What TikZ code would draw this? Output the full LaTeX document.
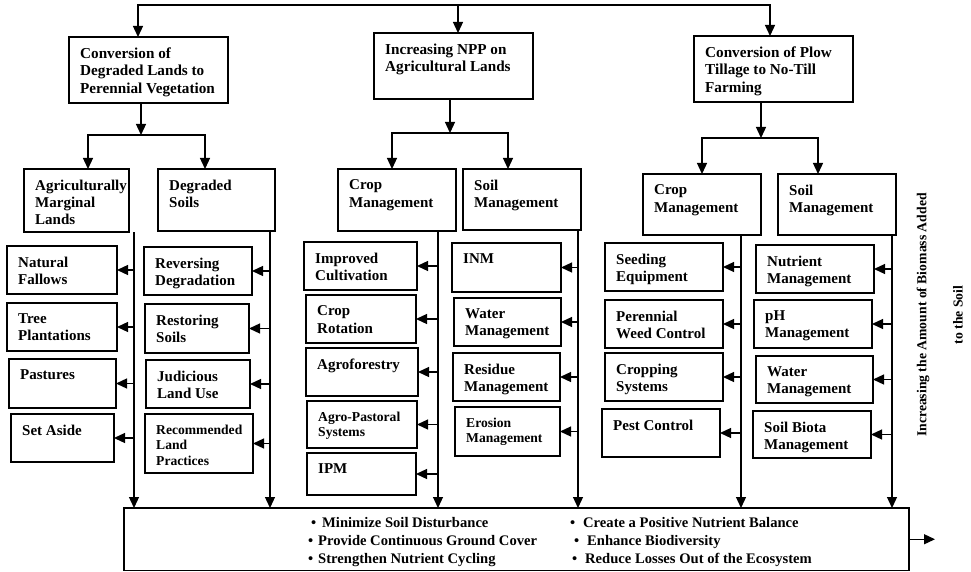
\documentclass[tikz,border=0pt]{standalone}
\usepackage{fontspec}
\setmainfont{Liberation Serif}
\usetikzlibrary{arrows.meta}
\newcommand\fm{\fontsize{15}{17.4}\selectfont\bfseries}
\newcommand\fbul{\fontsize{14.6}{17.4}\selectfont\bfseries}
\newcommand\ftop{\fontsize{15.2}{17.5}\selectfont\bfseries}
\newcommand\fsm{\fontsize{13.6}{15.5}\selectfont\bfseries}
\newcommand\frot{\fontsize{13.7}{16}\selectfont\bfseries}
\newcommand\bx[7][\fm]{%
  \node[box, anchor=north west, minimum width={(#5)-(#3)}, minimum height={(#6)-(#4)}] (#2) at (#3,#4) {};
  \node[lbl, font=#1] (#2t) at ([xshift=11pt,yshift=-10.5pt]#2.north west) {#7};}
\begin{document}
\begin{tikzpicture}[x=1pt,y=-1pt,
  box/.style={draw, line width=1.25pt, inner sep=0pt, outer sep=0pt},
  lbl/.style={anchor=north west, align=left, inner sep=0pt},
  ln/.style={line width=1.25pt, line join=miter},
  arr/.style={ln, -{Triangle[length=11pt,width=10pt]}},
  arrs/.style={ln, {Triangle[length=11pt,width=10pt]}-{Triangle[length=11pt,width=10pt]}},
  bul/.style={anchor=base west, inner sep=0pt, font=\fbul}]
\useasboundingbox (0,0) rectangle (971,572);

% top level
\bx[\ftop]{B1}{69}{37}{228}{103}{Conversion of\\Degraded Lands to\\Perennial Vegetation}
\bx[\ftop]{B2}{374}{33}{533}{99}{Increasing NPP on\\Agricultural Lands}
\bx[\ftop]{B3}{694}{36}{853}{102}{Conversion of Plow\\Tillage to No-Till\\Farming}

% second level
\bx{AML}{24}{169}{129}{232}{Agriculturally\\Marginal\\Lands}
\bx{DS}{158}{169}{275}{231}{Degraded\\Soils}
\bx{CM1}{338}{169}{456}{231}{Crop\\Management}
\bx{SM1}{463}{169}{581}{230}{Soil\\Management}
\bx{CM2}{643}{174}{761}{235}{Crop\\Management}
\bx{SM2}{778}{174}{896}{235}{Soil\\Management}

% leaves
\bx{NF}{7}{246}{117}{294}{Natural\\Fallows}
\bx{TP}{7}{303}{117}{351}{Tree\\Plantations}
\bx{PA}{9}{359}{116}{408}{Pastures}
\bx{SA}{11}{414}{114}{462}{Set Aside}
\bx{RD}{144}{247}{252}{295}{Reversing\\Degradation}
\bx{RS}{145}{304}{249}{353}{Restoring\\Soils}
\bx{JL}{146}{360}{250}{408}{Judicious\\Land Use}
\bx[\fsm]{RL}{145}{414}{253}{473}{Recommended\\Land\\Practices}
\bx{IC}{304}{242}{417}{290}{Improved\\Cultivation}
\bx{CR}{306}{295}{416}{343}{Crop\\Rotation}
\bx{AF}{306}{348}{418}{396}{Agroforestry}
\bx[\fsm]{AP}{307}{401}{417}{448}{Agro-Pastoral\\Systems}
\bx{IPM}{307}{453}{416}{495}{IPM}
\bx{INM}{452}{243}{561}{292}{INM}
\bx{WMa}{454}{298}{561}{346}{Water\\Management}
\bx{RM}{453}{353}{560}{401}{Residue\\Management}
\bx[\fsm]{EM}{455}{407}{560}{456}{Erosion\\Management}
\bx{SE}{605}{243}{723}{291}{Seeding\\Equipment}
\bx{PW}{605}{300}{723}{348}{Perennial\\Weed Control}
\bx{CS}{605}{353}{723}{401}{Cropping\\Systems}
\bx{PC}{602}{409}{720}{457}{Pest Control}
\bx{NM}{756}{245}{874}{293}{Nutrient\\Management}
\bx{PH}{754}{300}{872}{348}{pH\\Management}
\bx{WMb}{756}{356}{873}{403}{Water\\Management}
\bx{SB}{753}{411}{871}{458}{Soil Biota\\Management}

% bottom box
\node[box, anchor=north west, minimum width=785, minimum height=62.5] (bot) at (124,508) {};
\node[bul] (b1) at (311,527) {\makebox[11pt][l]{\textbullet}Minimize Soil Disturbance};
\node[bul] (b2) at (308,545) {\makebox[10pt][l]{\textbullet}Provide Continuous Ground Cover};
\node[bul] (b3) at (308,563) {\makebox[10pt][l]{\textbullet}Strengthen Nutrient Cycling};
\node[bul] (b4) at (570,527) {\makebox[13pt][l]{\textbullet}Create a Positive Nutrient Balance};
\node[bul] (b5) at (574,545) {\makebox[13pt][l]{\textbullet}Enhance Biodiversity};
\node[bul] (b6) at (572,563) {\makebox[13pt][l]{\textbullet}Reduce Losses Out of the Ecosystem};

% side caption
\node[rotate=90, inner sep=0pt, font=\frot] (rt1) at (923,315) {Increasing the Amount of Biomass Added};
\node[rotate=90, inner sep=0pt, font=\frot] (rt2) at (958,315) {to the Soil};

% top connectors
\coordinate (T1) at (138,5);
\coordinate (T2) at (458,5);
\coordinate (T3) at (770,5);
\draw[arrs] (T1 |- B1.north) -- (T1) -- (T3) -- (T3 |- B3.north);
\draw[arr] (T2) -- (T2 |- B2.north);

% branches
\coordinate (J1) at (141,135); \coordinate (J1a) at (88,135); \coordinate (J1b) at (205,135);
\coordinate (J2) at (450,133); \coordinate (J2a) at (392,133); \coordinate (J2b) at (508,133);
\coordinate (J3) at (761,138); \coordinate (J3a) at (702,138); \coordinate (J3b) at (818,138);
\draw[arr] (J1 |- B1.south) -- (J1);
\draw[arrs] (J1a |- AML.north) -- (J1a) -- (J1b) -- (J1b |- DS.north);
\draw[arr] (J2 |- B2.south) -- (J2);
\draw[arrs] (J2a |- CM1.north) -- (J2a) -- (J2b) -- (J2b |- SM1.north);
\draw[arr] (J3 |- B3.south) -- (J3);
\draw[arrs] (J3a |- CM2.north) -- (J3a) -- (J3b) -- (J3b |- SM2.north);

% vertical spines to the bottom box
\foreach \n/\x in {AML/134, DS/270, CM1/438, SM1/578, CM2/741, SM2/892}
  \draw[arr] (\x,0 |- \n.south) -- (\x,0 |- bot.north);

% side arrows
\foreach \n/\x in {NF/134, TP/134, PA/134, SA/134,
                   RD/270, RS/270, JL/270, RL/270,
                   IC/438, CR/438, AF/438, AP/438, IPM/438,
                   INM/578, WMa/578, RM/578, EM/578,
                   SE/741, PW/741, CS/741, PC/741,
                   NM/892, PH/892, WMb/892, SB/892}
  \draw[arr] (\x,0 |- \n.east) -- (\n.east);

% output arrow
\coordinate (out) at (935,0 |- bot.east);
\draw[arr] (bot.east) -- (out);
\end{tikzpicture}
\end{document}
